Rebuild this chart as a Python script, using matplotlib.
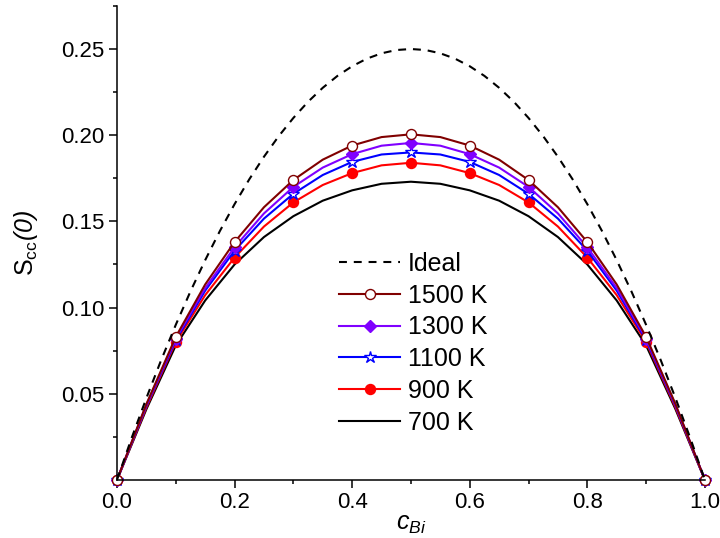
import numpy as np
import matplotlib
matplotlib.use("Agg")
import matplotlib.pyplot as plt
from matplotlib.ticker import MultipleLocator

plt.rcParams['font.family'] = ['Liberation Sans', 'DejaVu Sans']
plt.rcParams['mathtext.fontset'] = 'custom'
plt.rcParams['mathtext.rm'] = 'Liberation Sans'
plt.rcParams['mathtext.it'] = 'Liberation Sans:italic'
plt.rcParams['mathtext.sf'] = 'Liberation Sans:italic'  # italic digits / brackets

# ideal mixing curve, read at 0.025 steps
c_ideal = [0.0, 0.025, 0.05, 0.075, 0.1, 0.125, 0.15, 0.175, 0.2, 0.225, 0.25,
           0.275, 0.3, 0.325, 0.35, 0.375, 0.4, 0.425, 0.45, 0.475, 0.5,
           0.525, 0.55, 0.575, 0.6, 0.625, 0.65, 0.675, 0.7, 0.725, 0.75,
           0.775, 0.8, 0.825, 0.85, 0.875, 0.9, 0.925, 0.95, 0.975, 1.0]
s_ideal = [0.0, 0.0244, 0.0475, 0.0694, 0.09, 0.1094, 0.1275, 0.1444, 0.16, 0.1744, 0.1875,
           0.1994, 0.21, 0.2194, 0.2275, 0.2344, 0.24, 0.2444, 0.2475, 0.2494, 0.25,
           0.2494, 0.2475, 0.2444, 0.24, 0.2344, 0.2275, 0.2194, 0.21, 0.1994, 0.1875,
           0.1744, 0.16, 0.1444, 0.1275, 0.1094, 0.09, 0.0694, 0.0475, 0.0244, 0.0]

# composition grid for the model lines (0.05 step) and for the markers (0.1 step)
c_line = [0.0, 0.05, 0.1, 0.15, 0.2, 0.25, 0.3, 0.35, 0.4, 0.45, 0.5,
          0.55, 0.6, 0.65, 0.7, 0.75, 0.8, 0.85, 0.9, 0.95, 1.0]
c_mark = [0.0, 0.1, 0.2, 0.3, 0.4, 0.5, 0.6, 0.7, 0.8, 0.9, 1.0]

s1500_line = [0.0, 0.044, 0.083, 0.1134, 0.138, 0.1582, 0.174, 0.1858, 0.194, 0.1989, 0.2005,
              0.1989, 0.194, 0.1858, 0.174, 0.1582, 0.138, 0.1134, 0.083, 0.044, 0.0]
s1500_mark = [0.0, 0.083, 0.138, 0.174, 0.194, 0.2005, 0.194, 0.174, 0.138, 0.083, 0.0]

s1300_line = [0.0, 0.0435, 0.082, 0.1113, 0.135, 0.1546, 0.170, 0.1812, 0.189, 0.1939, 0.1955,
              0.1939, 0.189, 0.1812, 0.170, 0.1546, 0.135, 0.1113, 0.082, 0.0435, 0.0]
s1300_mark = [0.0, 0.082, 0.135, 0.170, 0.189, 0.1955, 0.189, 0.170, 0.135, 0.082, 0.0]

s1100_line = [0.0, 0.043, 0.081, 0.1098, 0.133, 0.1516, 0.166, 0.1769, 0.1845, 0.1888, 0.190,
              0.1888, 0.1845, 0.1769, 0.166, 0.1516, 0.133, 0.1098, 0.081, 0.043, 0.0]
s1100_mark = [0.0, 0.081, 0.133, 0.166, 0.1845, 0.190, 0.1845, 0.166, 0.133, 0.081, 0.0]

s900_line = [0.0, 0.042, 0.080, 0.1072, 0.129, 0.147, 0.161, 0.1711, 0.178, 0.1825, 0.184,
             0.1825, 0.178, 0.1711, 0.161, 0.147, 0.129, 0.1072, 0.080, 0.042, 0.0]
s900_mark = [0.0, 0.080, 0.129, 0.161, 0.178, 0.184, 0.178, 0.161, 0.129, 0.080, 0.0]

s700_line = [0.0, 0.041, 0.078, 0.1041, 0.125, 0.1409, 0.153, 0.162, 0.168, 0.1718, 0.173,
             0.1718, 0.168, 0.162, 0.153, 0.1409, 0.125, 0.1041, 0.078, 0.041, 0.0]

fig = plt.figure(figsize=(7.2, 5.38), dpi=100)
ax = fig.add_axes([0.1625, 0.108, 0.8165, 0.881])

lw = 1.5
ms = 7.2
dash = (0, (3.8, 3.3))

ax.plot(c_line, s700_line, '-', color='black', lw=lw)
ax.plot(c_line, s900_line, '-', color='#ff0000', lw=lw)
ax.plot(c_mark, s900_mark, 'o', color='#ff0000', ms=ms, ls='none')
ax.plot(c_line, s1100_line, '-', color='#0000ff', lw=lw)
ax.plot(c_mark, s1100_mark, '*', mfc='white', mec='#0000ff', ms=ms + 2, mew=1.0, ls='none')
ax.plot(c_line, s1300_line, '-', color='#8000ff', lw=lw)
ax.plot(c_mark, s1300_mark, 'D', color='#8000ff', ms=ms - 1.5, ls='none')
ax.plot(c_line, s1500_line, '-', color='#800000', lw=lw)
ax.plot(c_mark, s1500_mark, 'o', mfc='white', mec='#800000', ms=ms, mew=1.0, ls='none')
ax.plot(c_ideal, s_ideal, color='black', lw=lw, ls=dash)

# legend proxies
h_ideal, = ax.plot([], [], color='black', lw=lw, ls=dash)
h1500, = ax.plot([], [], '-o', color='#800000', mfc='white', mec='#800000', ms=ms, lw=lw)
h1300, = ax.plot([], [], '-D', color='#8000ff', ms=ms - 1.5, lw=lw)
h1100, = ax.plot([], [], '-*', color='#0000ff', mfc='white', mec='#0000ff', ms=ms + 2, mew=1.0, lw=lw)
h900, = ax.plot([], [], '-o', color='#ff0000', ms=ms, lw=lw)
h700, = ax.plot([], [], '-', color='black', lw=lw)
ax.legend([h_ideal, h1500, h1300, h1100, h900, h700],
          ['Ideal', '1500 K', '1300 K', '1100 K', '900 K', '700 K'],
          loc='upper left', bbox_to_anchor=(0.378, 0.481), frameon=False,
          fontsize=18, handlelength=2.44, handletextpad=0.3, labelspacing=0.31,
          borderpad=0, borderaxespad=0)

ax.set_xlim(0, 1.0)
ax.set_ylim(0, 0.275)
ax.xaxis.set_minor_locator(MultipleLocator(0.1))
ax.yaxis.set_minor_locator(MultipleLocator(0.025))
ax.set_xticks([0.0, 0.2, 0.4, 0.6, 0.8, 1.0])
ax.set_xticklabels(['0.0', '0.2', '0.4', '0.6', '0.8', '1.0'])
ax.set_yticks([0.05, 0.10, 0.15, 0.20, 0.25])
ax.set_yticklabels(['0.05', '0.10', '0.15', '0.20', '0.25'])

for s in ['top', 'right']:
    ax.spines[s].set_visible(False)
for s in ['left', 'bottom']:
    ax.spines[s].set_linewidth(1.1)
ax.tick_params(which='major', direction='out', length=5.5, width=1.1, labelsize=16)
ax.tick_params(which='minor', direction='out', length=3, width=1.1)

ax.set_xlabel(r'$c_{Bi}$', fontsize=18, labelpad=-1)
ax.set_ylabel(r'$\mathrm{S}_{\mathrm{cc}}\mathsf{(0)}$', fontsize=18, labelpad=15)

for line in ax.lines:
    line.set_clip_on(False)

fig.savefig('out.png', dpi=100)
